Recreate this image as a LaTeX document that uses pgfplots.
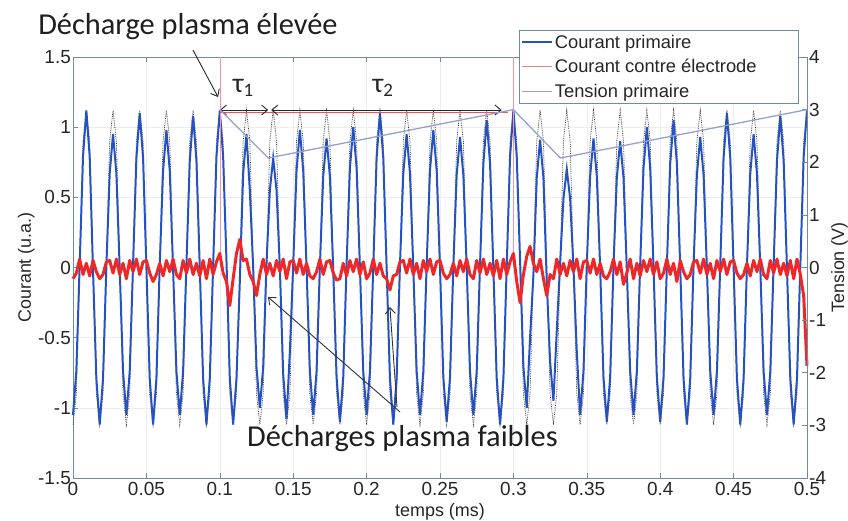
\documentclass[border=0pt]{standalone}
\usepackage{pgfplots}
\pgfplotsset{compat=1.18}
\usepackage{pgfplotstable}
\usetikzlibrary{arrows.meta}
\usepackage{fontspec}
\setmainfont{Liberation Sans}
\newfontfamily\calib{Carlito}
\definecolor{axc}{RGB}{110,140,165}
\definecolor{bluec}{RGB}{38,82,192}
\definecolor{redc}{RGB}{238,40,40}
\definecolor{tensc}{RGB}{150,160,205}
\definecolor{pinkc}{RGB}{240,150,170}

\pgfplotstableread{
t b k r
0 -1.05 -1.12 -0.08
0.00227 -0.74 -0.9 -0.04
0.00455 0.02 0 0.06
0.00682 0.79 0.9 -0.05
0.00909 1.12 1.12 0.03
0.01136 0.79 0.9 -0.06
0.01364 -0.02 0 0.05
0.01591 -0.79 -0.9 -0.03
0.01818 -1.12 -1.12 -0.08
0.02045 -0.79 -0.9 -0.05
0.02273 0.01 0 0.04
0.025 0.67 0.9 0.05
0.02727 0.95 1.12 -0.04
0.02955 0.67 0.9 0.06
0.03182 -0.01 0 -0.05
0.03409 -0.74 -0.9 0.03
0.03636 -1.05 -1.12 -0.08
0.03864 -0.74 -0.9 0.05
0.04091 0.02 0 -0.03
0.04318 0.78 0.9 0.06
0.04545 1.1 1.12 -0.05
0.04773 0.78 0.9 0.04
0.05 0 0 0.05
0.05227 -0.79 -0.9 -0.04
0.05455 -1.12 -1.12 -0.1
0.05682 -0.79 -0.9 -0.05
0.05909 0.02 0 0.03
0.06136 0.69 0.9 -0.06
0.06364 0.98 1.12 0.05
0.06591 0.69 0.9 -0.03
0.06818 -0.01 0 0.06
0.07045 -0.74 -0.9 -0.05
0.07273 -1.05 -1.12 -0.08
0.075 -0.74 -0.9 0.05
0.07727 0.02 0 -0.04
0.07955 0.76 0.9 0.06
0.08182 1.08 1.12 -0.05
0.08409 0.76 0.9 0.03
0.08636 0 0 -0.06
0.08864 -0.79 -0.9 0.05
0.09091 -1.12 -1.12 -0.08
0.09318 -0.79 -0.9 0.06
0.09545 0.01 0 -0.05
0.09773 0.79 0.9 0.04
0.1 1.12 1.12 0.1
0.10227 0.79 0.9 -0.04
0.10455 0.05 0 -0.1
0.10682 -0.79 -0.9 -0.27
0.10909 -1.12 -1.12 -0.08
0.11136 -0.79 -0.9 0.1
0.11364 -0.1 0 0.2
0.11591 0.67 0.9 0.05
0.11818 0.95 1.12 0.06
0.12045 0.55 0.9 -0.05
0.12273 0 0 -0.1
0.125 -0.71 -0.9 -0.2
0.12727 -1.0 -1.12 -0.05
0.12955 -0.71 -0.9 0.06
0.13182 0.03 0 -0.05
0.13409 0.55 0.9 0.03
0.13636 0.78 1.12 -0.06
0.13864 0.55 0.9 0.05
0.14091 0 0 -0.03
0.14318 -0.76 -0.9 0.06
0.14545 -1.08 -1.12 -0.08
0.14773 -0.6 -0.9 0.04
0.15 0.02 0 0.05
0.15227 0.69 0.9 -0.04
0.15455 0.98 1.12 0.06
0.15682 0.69 0.9 -0.05
0.15909 0 0 0.03
0.16136 -0.74 -0.9 -0.06
0.16364 -1.05 -1.12 -0.08
0.16591 -0.74 -0.9 -0.03
0.16818 0.01 0 0.06
0.17045 0.65 0.9 -0.05
0.17273 0.92 1.12 0.04
0.175 0.65 0.9 0.05
0.17727 -0.02 0 -0.04
0.17955 -0.78 -0.9 -0.09
0.18182 -1.1 -1.12 -0.08
0.18409 -0.78 -0.9 0.03
0.18636 0.02 0 -0.06
0.18864 0.71 0.9 0.05
0.19091 1.0 1.12 -0.03
0.19318 0.71 0.9 0.06
0.19545 0 0 -0.05
0.19773 -0.74 -0.9 0.04
0.2 -1.05 -1.12 -0.08
0.20227 -0.74 -0.9 -0.04
0.20455 0.01 0 0.06
0.20682 0.78 0.9 -0.05
0.20909 1.1 1.12 0.03
0.21136 0.78 0.9 -0.06
0.21364 0 0 -0.08
0.21591 -0.79 -0.9 -0.16
0.21818 -1.12 -1.12 -0.06
0.22045 -0.79 -0.9 -0.05
0.22273 0.02 0 0.04
0.225 0.67 0.9 0.05
0.22727 0.95 1.12 -0.04
0.22955 0.67 0.9 0.06
0.23182 -0.01 0 -0.05
0.23409 -0.74 -0.9 0.03
0.23636 -1.05 -1.12 -0.08
0.23864 -0.74 -0.9 0.05
0.24091 0.02 0 -0.03
0.24318 0.69 0.9 0.06
0.24545 0.98 1.12 -0.05
0.24773 0.69 0.9 0.04
0.25 0 0 0.05
0.25227 -0.78 -0.9 -0.04
0.25455 -1.1 -1.12 -0.08
0.25682 -0.78 -0.9 -0.05
0.25909 0.01 0 0.03
0.26136 0.66 0.9 -0.06
0.26364 0.93 1.12 0.05
0.26591 0.66 0.9 -0.03
0.26818 0 0 0.06
0.27045 -0.74 -0.9 -0.05
0.27273 -1.05 -1.12 -0.08
0.275 -0.74 -0.9 0.05
0.27727 0.02 0 -0.04
0.27955 0.74 0.9 0.06
0.28182 1.05 1.12 -0.05
0.28409 0.74 0.9 0.03
0.28636 -0.01 0 -0.06
0.28864 -0.79 -0.9 0.05
0.29091 -1.12 -1.12 -0.08
0.29318 -0.79 -0.9 0.06
0.29545 0.01 0 -0.05
0.29773 0.79 0.9 0.04
0.3 1.12 1.12 0.1
0.30227 0.79 0.9 -0.1
0.30455 0.05 0 -0.25
0.30682 -0.71 -0.9 -0.05
0.30909 -1.0 -1.12 0.08
0.31136 -0.5 -0.9 0.15
0.31364 -0.05 0 0.03
0.31591 0.64 0.9 -0.03
0.31818 0.91 1.12 0.06
0.32045 0.64 0.9 -0.08
0.32273 -0.1 0 -0.2
0.325 -0.67 -0.9 -0.05
0.32727 -0.95 -1.12 -0.08
0.32955 -0.45 -0.9 0.06
0.33182 0.03 0 -0.05
0.33409 0.49 0.9 0.03
0.33636 0.7 1.12 -0.06
0.33864 0.49 0.9 0.05
0.34091 0 0 -0.03
0.34318 -0.6 -0.9 0.06
0.34545 -1.05 -1.12 -0.08
0.34773 -0.74 -0.9 0.04
0.35 0.02 0 0.05
0.35227 0.65 0.9 -0.04
0.35455 0.92 1.12 0.06
0.35682 0.65 0.9 -0.05
0.35909 0 0 0.03
0.36136 -0.78 -0.9 -0.06
0.36364 -1.1 -1.12 -0.08
0.36591 -0.78 -0.9 -0.03
0.36818 0.01 0 0.06
0.37045 0.64 0.9 -0.05
0.37273 0.9 1.12 0.04
0.375 0.64 0.9 -0.12
0.37727 -0.02 0 -0.04
0.37955 -0.74 -0.9 0.06
0.38182 -1.05 -1.12 -0.08
0.38409 -0.74 -0.9 0.03
0.38636 0.02 0 -0.06
0.38864 0.71 0.9 0.05
0.39091 1.0 1.12 -0.03
0.39318 0.71 0.9 0.06
0.39545 0 0 -0.05
0.39773 -0.78 -0.9 0.04
0.4 -1.1 -1.12 -0.08
0.40227 -0.78 -0.9 -0.04
0.40455 0.01 0 0.06
0.40682 0.74 0.9 -0.05
0.40909 1.05 1.12 0.03
0.41136 0.74 0.9 -0.1
0.41364 0 0 0.05
0.41591 -0.79 -0.9 -0.03
0.41818 -1.12 -1.12 -0.08
0.42045 -0.79 -0.9 -0.05
0.42273 0.02 0 0.04
0.425 0.66 0.9 0.05
0.42727 0.93 1.12 -0.04
0.42955 0.66 0.9 0.06
0.43182 -0.01 0 -0.05
0.43409 -0.74 -0.9 0.03
0.43636 -1.05 -1.12 -0.08
0.43864 -0.74 -0.9 0.05
0.44091 0.02 0 -0.03
0.44318 0.78 0.9 0.06
0.44545 1.1 1.12 -0.05
0.44773 0.78 0.9 0.04
0.45 0 0 0.05
0.45227 -0.79 -0.9 -0.04
0.45455 -1.12 -1.12 -0.08
0.45682 -0.79 -0.9 -0.05
0.45909 0.01 0 0.03
0.46136 0.67 0.9 -0.06
0.46364 0.95 1.12 0.05
0.46591 0.67 0.9 -0.03
0.46818 0 0 0.06
0.47045 -0.74 -0.9 -0.05
0.47273 -1.05 -1.12 -0.08
0.475 -0.74 -0.9 0.05
0.47727 0.02 0 -0.04
0.47955 0.76 0.9 0.06
0.48182 1.08 1.12 -0.05
0.48409 0.76 0.9 0.03
0.48636 -0.01 0 -0.06
0.48864 -0.79 -0.9 0.05
0.49091 -1.12 -1.12 -0.08
0.49318 -0.79 -0.9 0.06
0.49545 0.01 0 -0.05
0.49773 0.79 0.9 -0.2
0.5 1.12 1.12 -0.7
}\datatab

\begin{document}
\begin{tikzpicture}
\begin{axis}[
  at={(0,0)}, anchor=south west,
  scale only axis, width=734bp, height=421bp,
  xmin=0, xmax=0.5, ymin=-1.5, ymax=1.5,
  xtick={0,0.05,0.1,0.15,0.2,0.25,0.3,0.35,0.4,0.45,0.5},
  xticklabels={0,0.05,0.1,0.15,0.2,0.25,0.3,0.35,0.4,0.45,0.5},
  ytick={-1.5,-1,-0.5,0,0.5,1,1.5},
  yticklabels={-1.5,-1,-0.5,0,0.5,1,1.5},
  ytick pos=left, xtick pos=both,
  tick align=inside, major tick length=5bp,
  every tick/.style={axc, line width=0.6pt},
  axis line style={axc, line width=0.8pt},
  grid=major, major grid style={black!7, line width=0.4pt},
  tick label style={font=\fontsize{19}{21}\selectfont, text=black!85, inner sep=2bp},
  xticklabel style={yshift=-2bp},
  every axis x label/.style={at={([yshift=-38bp]axis description cs:0.5,0)}, anchor=base, font=\fontsize{18}{20}\selectfont, text=black!85},
  every axis y label/.style={at={([xshift=-42bp]axis description cs:0,0.5)}, rotate=90, anchor=base, font=\fontsize{18}{20}\selectfont, text=black!85},
  xlabel={temps (ms)}, ylabel={Courant (u.a.)},
  clip=false,
  legend style={at={(rel axis cs:0.6076,1.064)}, anchor=north west, draw=axc, line width=0.8pt, fill=white, font=\fontsize{18.4}{20}\selectfont, text=black!85, row sep=6.5bp, inner xsep=2bp, inner ysep=3bp, nodes={inner sep=1.5bp}},
  legend cell align=left,
  legend image code/.code={\draw[#1] (0bp,0bp) -- (30bp,0bp);},
]
\addlegendimage{bluec, line width=2pt}
\addlegendentry{Courant primaire}
\addlegendimage{redc!60, line width=0.8pt}
\addlegendentry{Courant contre électrode\hspace*{38bp}}
\addlegendimage{tensc, line width=0.8pt}
\addlegendentry{Tension primaire}

\addplot[black!75, densely dotted, line width=0.8pt, forget plot] table[x=t, y=k] {\datatab};
\addplot[bluec, line width=2pt, forget plot] table[x=t, y=b] {\datatab};
\addplot[pinkc, line width=0.6pt, forget plot] coordinates {(0.1,0) (0.1,1.5)};
\addplot[pinkc, line width=0.6pt, forget plot] coordinates {(0.3,0) (0.3,1.5)};
\addplot[redc, line width=3pt, line join=round, forget plot] table[x=t, y=r] {\datatab};

% annotations
\node[anchor=base west, inner sep=0, font=\calib\fontsize{30.5}{32}\selectfont, text=black!88] at (axis cs:-0.0238,1.657) {Décharge plasma élevée};
\node[anchor=base west, inner sep=0, font=\calib\fontsize{30.5}{32}\selectfont, text=black!88] at (axis cs:0.1185,-1.279) {Décharges plasma faibles};
\draw[-{Straight Barb[length=6bp,width=10bp]}, line width=0.9pt, black!85] (axis cs:0.0817,1.55) -- (axis cs:0.0988,1.215);
\draw[redc!80, line width=0.8pt] (axis cs:0.1,1.108) -- (axis cs:0.296,1.108);
\draw[{Straight Barb[length=6bp,width=10bp]}-{Straight Barb[length=6bp,width=10bp]}, line width=0.9pt, black!85] (axis cs:0.1,1.122) -- (axis cs:0.133,1.122);
\draw[{Straight Barb[length=6bp,width=10bp]}-{Straight Barb[length=6bp,width=10bp]}, line width=0.9pt, black!85] (axis cs:0.135,1.122) -- (axis cs:0.292,1.122);
\node[anchor=base, inner sep=0, font=\calib\fontsize{28}{30}\selectfont, text=black!85] at (axis cs:0.1158,1.25) {τ\raisebox{-0.3ex}{\fontsize{19}{19}\selectfont 1}};
\node[anchor=base, inner sep=0, font=\calib\fontsize{28}{30}\selectfont, text=black!85] at (axis cs:0.211,1.25) {τ\raisebox{-0.3ex}{\fontsize{19}{19}\selectfont 2}};
\draw[-{Straight Barb[length=6bp,width=10bp]}, line width=0.9pt, black!80] (axis cs:0.2228,-1.030) -- (axis cs:0.1328,-0.210);
\draw[-{Straight Barb[length=6bp,width=10bp]}, line width=0.9pt, black!80] (axis cs:0.2207,-0.994) -- (axis cs:0.2159,-0.282);
\end{axis}

\begin{axis}[
  at={(0,0)}, anchor=south west,
  scale only axis, width=734bp, height=421bp,
  xmin=0, xmax=0.5, ymin=-4, ymax=4,
  axis x line=none, axis y line*=right,
  ytick={-4,-3,-2,-1,0,1,2,3,4},
  yticklabels={-4,-3,-2,-1,0,1,2,3,4},
  tick align=inside, major tick length=5bp,
  every tick/.style={axc, line width=0.6pt},
  axis line style={axc, line width=0.8pt},
  tick label style={font=\fontsize{19}{21}\selectfont, text=black!85, inner sep=2bp},
  every axis y label/.style={at={([xshift=37bp]axis description cs:1,0.5)}, rotate=90, anchor=base, font=\fontsize{18}{20}\selectfont, text=black!85},
  ylabel={Tension (V)},
]
\addplot[tensc, line width=1.3pt] coordinates {(0.1,3) (0.133,2.08) (0.3,3) (0.332,2.08) (0.5,3)};
\end{axis}
\pgfresetboundingbox
\path (-73bp,-43bp) rectangle (775bp,478bp);
\end{tikzpicture}
\end{document}
